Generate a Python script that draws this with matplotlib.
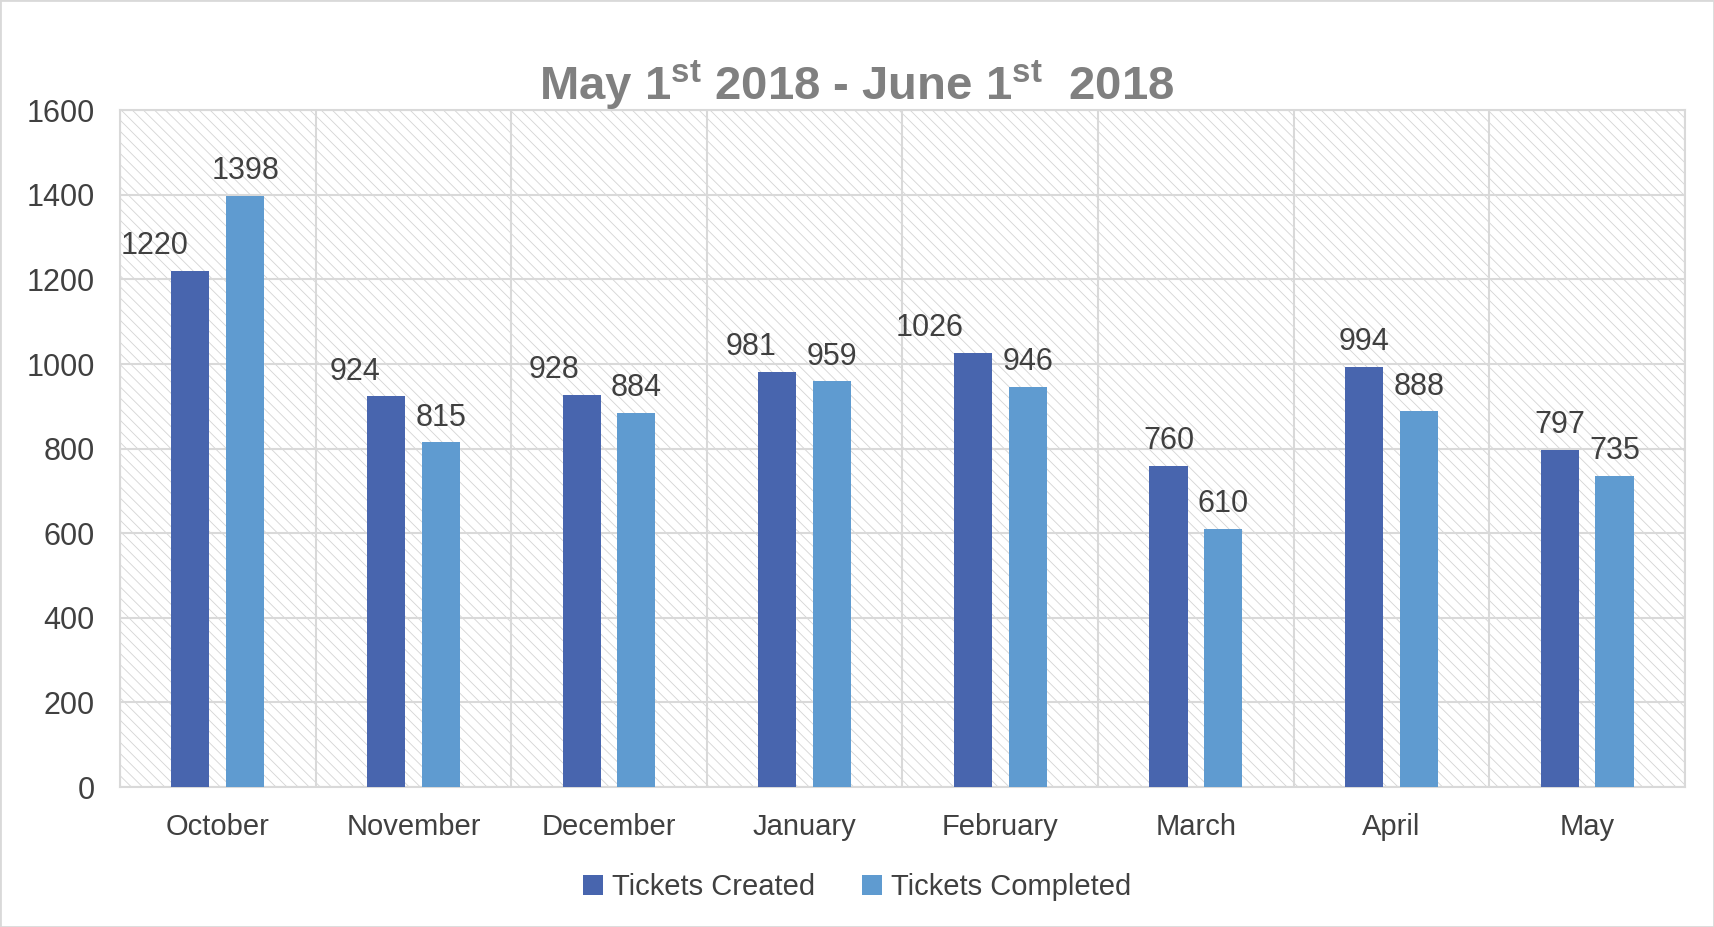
import matplotlib.pyplot as plt
from matplotlib.patches import Rectangle
import numpy as np

months = ["October", "November", "December", "January", "February", "March", "April", "May"]
created = [1220, 924, 928, 981, 1026, 760, 994, 797]
completed = [1398, 815, 884, 959, 946, 610, 888, 735]

# left shift (points) of the "created" labels, as placed in the original
created_label_dx = [-26, -22, -20, -19, -31, 0, 0, 0]

c_created = "#4865AE"
c_completed = "#5F9BD0"
txt = "#404040"
grid_c = "#d9d9d9"

plt.rcParams['font.family'] = ['Liberation Sans', 'DejaVu Sans']
plt.rcParams['mathtext.default'] = 'regular'
plt.rcParams['hatch.linewidth'] = 0.6
plt.rcParams['hatch.color'] = "#d4d4d4"

fig = plt.figure(figsize=(17.14, 9.27), dpi=100)
ax = fig.add_axes([0.070, 0.151, 0.913, 0.730])

x = np.arange(len(months))
w = 0.195
off = 0.14

# hatched plot background
ax.add_patch(Rectangle((0, 0), 1, 1, transform=ax.transAxes, facecolor="white",
                       edgecolor="#d4d4d4", hatch="\\\\\\",
                       linewidth=0, zorder=0))

b1 = ax.bar(x - off, created, w, color=c_created, label="Tickets Created", zorder=3)
b2 = ax.bar(x + off, completed, w, color=c_completed, label="Tickets Completed", zorder=3)

for i in range(len(months)):
    ax.annotate(str(created[i]), (x[i] - off, created[i]), xytext=(created_label_dx[i], 7),
                textcoords="offset points", ha="center", va="bottom", fontsize=22, color=txt)
    ax.annotate(str(completed[i]), (x[i] + off, completed[i]), xytext=(0, 7),
                textcoords="offset points", ha="center", va="bottom", fontsize=22, color=txt)

ax.set_xlim(-0.5, len(months) - 0.5)
ax.set_ylim(0, 1600)
ax.set_yticks(np.arange(0, 1601, 200))
ax.set_xticks(x)
ax.set_xticklabels(months)
ax.set_xticks(np.arange(-0.5, len(months), 1), minor=True)

ax.grid(axis="y", color=grid_c, linewidth=1.5, zorder=1)
ax.grid(axis="x", which="minor", color=grid_c, linewidth=1.5, zorder=1)
ax.set_axisbelow(True)
ax.tick_params(axis="both", which="both", length=0)
ax.tick_params(axis="y", pad=18, labelsize=22, labelcolor=txt)
ax.tick_params(axis="x", pad=19, labelsize=21, labelcolor=txt)
for s in ax.spines.values():
    s.set_color(grid_c)
    s.set_linewidth(1.5)

fig.text(0.5, 0.908, "May 1$^{st}$ 2018 - June 1$^{st}$  2018", ha="center", va="center",
         fontsize=34, fontweight="bold", color="#808080")

fig.legend(handles=[b1, b2], loc="center", bbox_to_anchor=(0.5, 0.043), ncol=2, frameon=False,
           handlelength=0.7, handleheight=0.7, handletextpad=0.3, columnspacing=1.6,
           labelcolor=txt, prop={"size": 21})

# thin outer frame like the source
fig.patches.append(Rectangle((0, 0), 1, 1, transform=fig.transFigure, fill=False,
                             edgecolor="#d9d9d9", linewidth=2))

fig.savefig("out.png", dpi=100)
